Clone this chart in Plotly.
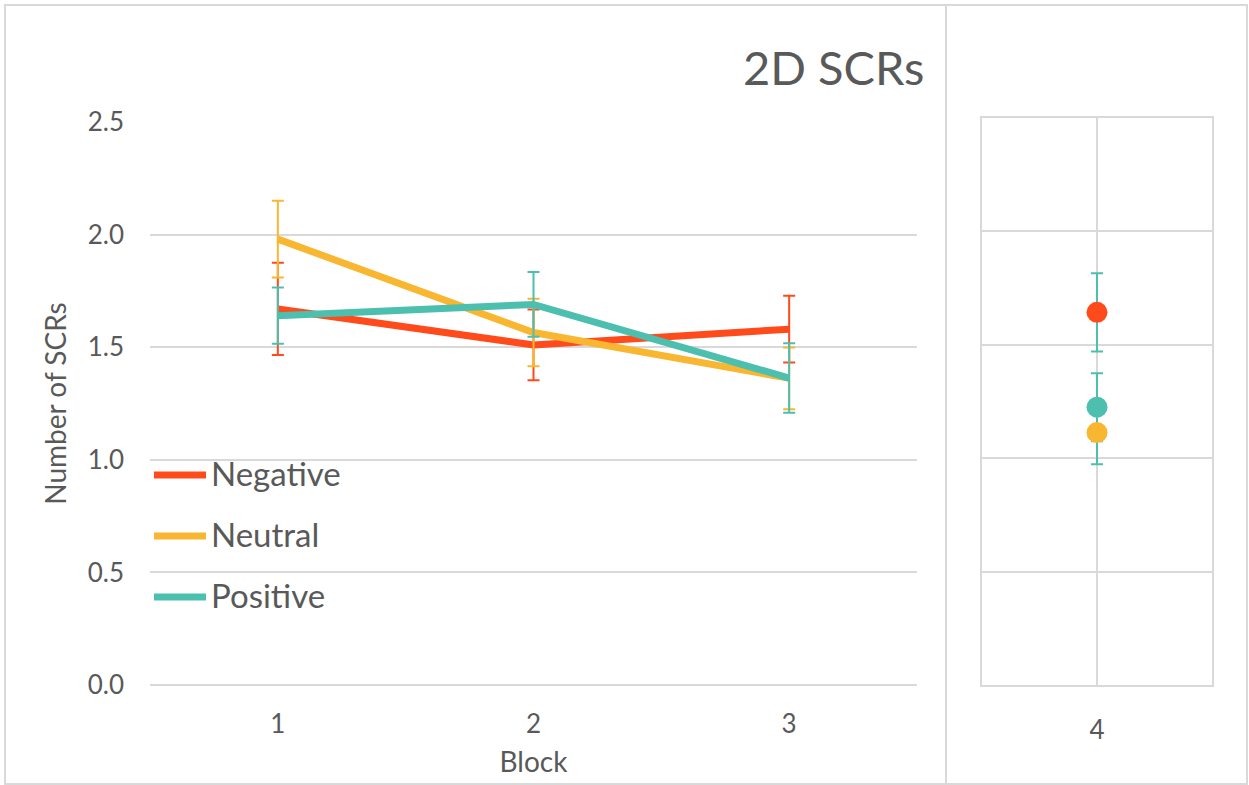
import plotly.graph_objects as go

# Mean number of SCRs per block, with error-bar half-widths
blocks = [1, 2, 3]
negative = [1.67, 1.51, 1.58]
negative_err = [0.205, 0.157, 0.148]
neutral = [1.98, 1.565, 1.362]
neutral_err = [0.17, 0.15, 0.137]
positive = [1.64, 1.69, 1.363]
positive_err = [0.125, 0.144, 0.154]

# Separate panel: block 4
block4 = [4]
negative_b4 = [1.643]
negative_b4_err = [0.173]
neutral_b4 = [1.113]
neutral_b4_err = [0.14]
positive_b4 = [1.225]
positive_b4_err = [0.15]

series_names = ["Negative", "Neutral", "Positive"]
colors = {"Negative": "#FF4A1C", "Neutral": "#F8B631", "Positive": "#4CBFAE"}

W, H = 1249, 785
FONT = "Lato"
TEXT = "#595959"
GRID = "#D9D9D9"


def px_x(x):
    return x / W


def px_y(y):
    return (H - y) / H


fig = go.Figure()

left = [
    ("Negative", negative, negative_err),
    ("Neutral", neutral, neutral_err),
    ("Positive", positive, positive_err),
]
for name, vals, errs in left:
    fig.add_trace(go.Scatter(
        x=blocks, y=vals, name=name, mode="lines",
        line=dict(color=colors[name], width=7),
        error_y=dict(type="data", array=errs, visible=True,
                     color=colors[name], thickness=2, width=6),
        xaxis="x", yaxis="y", showlegend=False,
    ))

right = [
    ("Negative", negative_b4, negative_b4_err),
    ("Positive", positive_b4, positive_b4_err),
    ("Neutral", neutral_b4, neutral_b4_err),
]
for name, vals, errs in right:
    fig.add_trace(go.Scatter(
        x=block4, y=vals, name=name, mode="markers",
        marker=dict(color=colors[name], size=21),
        error_y=dict(type="data", array=errs, visible=True,
                     color=colors["Positive"], thickness=2, width=6),
        xaxis="x2", yaxis="y2", showlegend=False,
    ))

shapes = [
    # outer chart border and panel divider
    dict(type="rect", xref="paper", yref="paper",
         x0=px_x(5), x1=px_x(1247), y0=px_y(784), y1=px_y(5),
         line=dict(color=GRID, width=2)),
    dict(type="line", xref="paper", yref="paper",
         x0=px_x(946), x1=px_x(946), y0=px_y(784), y1=px_y(5),
         line=dict(color=GRID, width=2)),
]

annotations = [
    dict(text="2D SCRs", xref="paper", yref="paper",
         x=px_x(926), y=px_y(67), xanchor="right", yanchor="middle",
         showarrow=False, font=dict(family=FONT, size=47, color=TEXT)),
]

# Legend drawn inside the left panel
legend_rows = [475, 536, 597]
for name, yrow in zip(series_names, legend_rows):
    shapes.append(dict(type="line", xref="paper", yref="paper",
                       x0=px_x(154), x1=px_x(206), y0=px_y(yrow), y1=px_y(yrow),
                       line=dict(color=colors[name], width=7)))
    annotations.append(dict(text=name, xref="paper", yref="paper",
                            x=px_x(209), y=px_y(yrow - 2), xanchor="left", yanchor="middle",
                            showarrow=False,
                            font=dict(family=FONT, size=33, color=TEXT)))

fig.update_layout(
    width=W, height=H, autosize=False,
    margin=dict(l=0, r=0, t=0, b=0, autoexpand=False),
    paper_bgcolor="white", plot_bgcolor="white",
    font=dict(family=FONT, color=TEXT),
    shapes=shapes, annotations=annotations,
    xaxis=dict(domain=[px_x(150), px_x(917)], range=[0.5, 3.5],
               tickvals=blocks, ticktext=[str(b) for b in blocks],
               showgrid=False, showline=False, zeroline=False, ticks="",
               tickfont=dict(family=FONT, size=26, color=TEXT),
               ticklabelstandoff=21, automargin=False,
               title=dict(text="Block", standoff=14,
                          font=dict(family=FONT, size=28, color=TEXT)),
               anchor="y"),
    yaxis=dict(domain=[px_y(685), px_y(122)], range=[0, 2.5],
               tick0=0, dtick=0.5, tickformat=".1f",
               showgrid=True, gridcolor=GRID, gridwidth=2,
               zeroline=True, zerolinecolor=GRID, zerolinewidth=2,
               showline=False, ticks="",
               tickfont=dict(family=FONT, size=26, color=TEXT),
               ticklabelstandoff=25, automargin=False,
               title=dict(text="Number of SCRs", standoff=12,
                          font=dict(family=FONT, size=28, color=TEXT)),
               anchor="x"),
    xaxis2=dict(domain=[px_x(982), px_x(1212)], range=[3.5, 4.5],
                tickvals=block4, ticktext=["4"],
                showgrid=True, gridcolor=GRID, gridwidth=2,
                showline=True, linecolor=GRID, linewidth=2, mirror=True,
                zeroline=False, ticks="",
                tickfont=dict(family=FONT, size=26, color=TEXT),
                ticklabelstandoff=21, automargin=False,
                anchor="y2"),
    yaxis2=dict(domain=[px_y(685), px_y(118)], range=[0, 2.5],
                tick0=0, dtick=0.5, showticklabels=False,
                showgrid=True, gridcolor=GRID, gridwidth=2,
                showline=True, linecolor=GRID, linewidth=2, mirror=True,
                zeroline=False, ticks="", automargin=False,
                anchor="x2"),
)

fig.write_html("out.html")
